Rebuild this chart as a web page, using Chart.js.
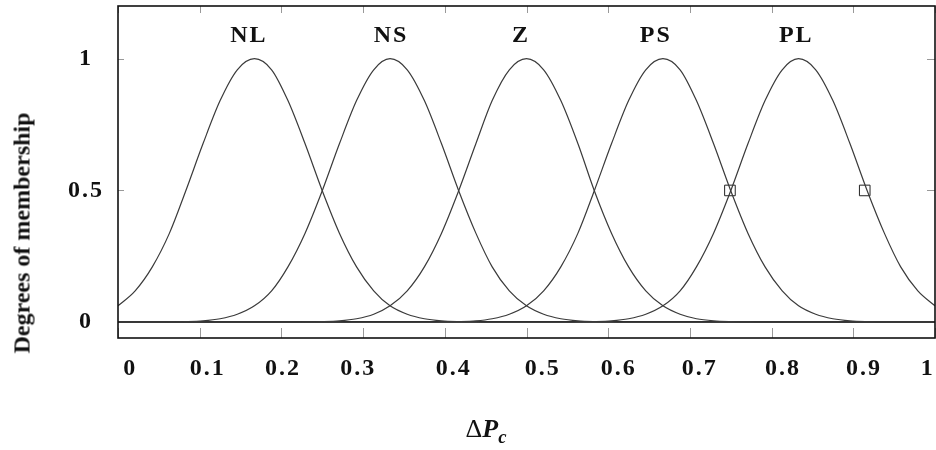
<!DOCTYPE html>
<html>
<head>
<meta charset="utf-8">
<script src="https://cdn.jsdelivr.net/npm/chart.js@4.4.1/dist/chart.umd.min.js"></script>
<style>
  body { margin: 0; background: #fff; }
  #wrap { position: relative; width: 936px; height: 450px; }
  .ytitle {
    position: absolute; left: 22px; top: 233px;
    transform: translate(-50%, -50%) rotate(-90deg);
    font: bold 24px "Liberation Serif", serif; white-space: nowrap; color: #111;
  }
  .xtitle {
    position: absolute; left: 486px; top: 431px;
    transform: translate(-50%, -50%);
    font: 26px "Liberation Serif", serif; white-space: nowrap; color: #111;
  }
  .xtitle b { font-style: italic; }
  .xtitle sub { font-size: 0.72em; vertical-align: -0.3em; }
</style>
</head>
<body>
<div id="wrap">
  <canvas id="chart"></canvas>
  <div class="ytitle">Degrees of membership</div>
  <div class="xtitle">Δ<b>P<sub>c</sub></b></div>
</div>
<script>
let xValues = [0, 0.021, 0.042, 0.063, 0.083, 0.104, 0.125, 0.146, 0.167, 0.188, 0.208, 0.229,
  0.25, 0.271, 0.292, 0.313, 0.333, 0.354, 0.375, 0.396, 0.417, 0.438, 0.458, 0.479,
  0.5, 0.521, 0.542, 0.563, 0.583, 0.604, 0.625, 0.646, 0.667, 0.688, 0.708, 0.729,
  0.75, 0.771, 0.792, 0.813, 0.833, 0.854, 0.875, 0.896, 0.917, 0.938, 0.958, 0.979,
  1];

let nl = [0.062, 0.119, 0.21, 0.338, 0.499, 0.677, 0.841, 0.958, 1, 0.958, 0.841, 0.677,
  0.499, 0.338, 0.21, 0.119, 0.062, 0.03, 0.013, 0.005, 0.002, 0.001, 0, 0,
  0, 0, 0, 0, 0, 0, 0, 0, 0, 0, 0, 0,
  0, 0, 0, 0, 0, 0, 0, 0, 0, 0, 0, 0,
  0];
let ns = [0, 0, 0, 0.001, 0.002, 0.005, 0.013, 0.03, 0.062, 0.119, 0.21, 0.338,
  0.499, 0.677, 0.841, 0.958, 1, 0.958, 0.841, 0.677, 0.499, 0.338, 0.21, 0.119,
  0.062, 0.03, 0.013, 0.005, 0.002, 0.001, 0, 0, 0, 0, 0, 0,
  0, 0, 0, 0, 0, 0, 0, 0, 0, 0, 0, 0,
  0];
let z = [0, 0, 0, 0, 0, 0, 0, 0, 0, 0, 0, 0.001,
  0.002, 0.005, 0.013, 0.03, 0.062, 0.119, 0.21, 0.338, 0.499, 0.677, 0.841, 0.958,
  1, 0.958, 0.841, 0.677, 0.499, 0.338, 0.21, 0.119, 0.062, 0.03, 0.013, 0.005,
  0.002, 0.001, 0, 0, 0, 0, 0, 0, 0, 0, 0, 0,
  0];
let ps = [0, 0, 0, 0, 0, 0, 0, 0, 0, 0, 0, 0,
  0, 0, 0, 0, 0, 0, 0, 0.001, 0.002, 0.005, 0.013, 0.03,
  0.062, 0.119, 0.21, 0.338, 0.499, 0.677, 0.841, 0.958, 1, 0.958, 0.841, 0.677,
  0.499, 0.338, 0.21, 0.119, 0.062, 0.03, 0.013, 0.005, 0.002, 0.001, 0, 0,
  0];
let pl = [0, 0, 0, 0, 0, 0, 0, 0, 0, 0, 0, 0,
  0, 0, 0, 0, 0, 0, 0, 0, 0, 0, 0, 0,
  0, 0, 0, 0.001, 0.002, 0.005, 0.013, 0.03, 0.062, 0.119, 0.21, 0.338,
  0.499, 0.677, 0.841, 0.958, 1, 0.958, 0.841, 0.677, 0.499, 0.338, 0.21, 0.119,
  0.062];

let setNames = ["NL", "NS", "Z", "PS", "PL"];
let nameX = [0.159, 0.333, 0.492, 0.657, 0.829];
let nameY = 1.087;

let markerX = [0.749, 0.914];
let markerY = [0.5, 0.5];

// tick marks, and where the figure puts the tick labels (they sit a bit off the marks)
let xTicks = [0, 0.1, 0.2, 0.3, 0.4, 0.5, 0.6, 0.7, 0.8, 0.9, 1];
let xTickLabels = ["0", "0.1", "0.2", "0.3", "0.4", "0.5", "0.6", "0.7", "0.8", "0.9", "1"];
let xLabelAt = [0.015, 0.11, 0.202, 0.294, 0.411, 0.52, 0.613, 0.712, 0.814, 0.913, 0.991];
let yTicks = [0, 0.5, 1];

const LABEL_FONT = { family: "'Liberation Serif', serif", size: 24, weight: "bold" };

let curves = [nl, ns, z, ps, pl];
let datasets = curves.map((vals, i) => ({
  label: setNames[i],
  data: xValues.map((x, j) => ({ x: x, y: vals[j] })),
  borderColor: "#3a3a3a",
  borderWidth: 1.2,
  pointRadius: 0,
  fill: false,
  cubicInterpolationMode: "monotone",
}));
datasets.push({
  label: "markers",
  data: markerX.map((x, i) => ({ x: x, y: markerY[i] })),
  showLine: false,
  pointStyle: "rect",
  pointRadius: 7.5,
  pointBackgroundColor: "#fff",
  pointBorderColor: "#222",
  pointBorderWidth: 1,
});

//Frame, small inward ticks and set names
let framePlugin = {
  id: "frame",
  beforeDraw(chart) {
    // text in the picture is a bit wider than the font
    chart.ctx.letterSpacing = "2px";
  },
  afterDatasetsDraw(chart) {
    let { ctx, chartArea: a, scales } = chart;
    ctx.save();
    ctx.strokeStyle = "#999";
    ctx.lineWidth = 1;
    xTicks.forEach((t) => {
      let px = Math.round(scales.x.getPixelForValue(t)) + 0.5;
      ctx.beginPath();
      ctx.moveTo(px, a.top);
      ctx.lineTo(px, a.top + 7);
      ctx.moveTo(px, a.bottom);
      ctx.lineTo(px, a.bottom - 10);
      ctx.stroke();
    });
    yTicks.slice(1).forEach((t) => {
      let py = Math.round(scales.y.getPixelForValue(t)) + 0.5;
      ctx.beginPath();
      ctx.moveTo(a.left, py);
      ctx.lineTo(a.left + 6, py);
      ctx.moveTo(a.right, py);
      ctx.lineTo(a.right - 8, py);
      ctx.stroke();
    });
    ctx.strokeStyle = "#111";
    ctx.lineWidth = 1.6;
    ctx.strokeRect(a.left, a.top, a.right - a.left, a.bottom - a.top);

    ctx.fillStyle = "#111";
    ctx.font = `bold ${LABEL_FONT.size}px ${LABEL_FONT.family}`;
    ctx.textAlign = "center";
    ctx.textBaseline = "middle";
    setNames.forEach((name, i) => {
      ctx.fillText(name, scales.x.getPixelForValue(nameX[i]) + 1, scales.y.getPixelForValue(nameY));
    });
    ctx.restore();
  },
};

new Chart(document.getElementById("chart"), {
  type: "line",
  data: { datasets: datasets },
  plugins: [framePlugin],
  options: {
    responsive: true,
    maintainAspectRatio: false,
    animation: false,
    layout: { autoPadding: false, padding: { top: 6, right: 1, left: 0, bottom: 0 } },
    plugins: {
      legend: { display: false },
      tooltip: { enabled: false },
    },
    scales: {
      x: {
        type: "linear",
        min: 0,
        max: 1,
        afterBuildTicks: (scale) => {
          scale.ticks = xLabelAt.map((v) => ({ value: v }));
        },
        afterFit: (scale) => {
          scale.height = 112;
          scale.paddingLeft = 0;
          scale.paddingRight = 0;
        },
        grid: { display: false, drawTicks: false },
        border: { display: false },
        ticks: {
          color: "#111",
          font: LABEL_FONT,
          padding: 16,
          maxRotation: 0,
          autoSkip: false,
          callback: (v, i) => xTickLabels[i],
        },
      },
      y: {
        min: -0.06,
        max: 1.2,
        afterBuildTicks: (scale) => {
          scale.ticks = yTicks.map((v) => ({ value: v }));
        },
        afterFit: (scale) => {
          scale.width = 118;
          scale.paddingTop = 0;
          scale.paddingBottom = 0;
        },
        grid: {
          drawTicks: false,
          lineWidth: 1.6,
          color: (c) => (c.tick && c.tick.value === 0 ? "#111" : "rgba(0,0,0,0)"),
        },
        border: { display: false },
        ticks: {
          color: "#111",
          font: LABEL_FONT,
          padding: 17,
          crossAlign: "center",
          callback: (v) => String(v),
        },
      },
    },
  },
});
</script>
</body>
</html>
